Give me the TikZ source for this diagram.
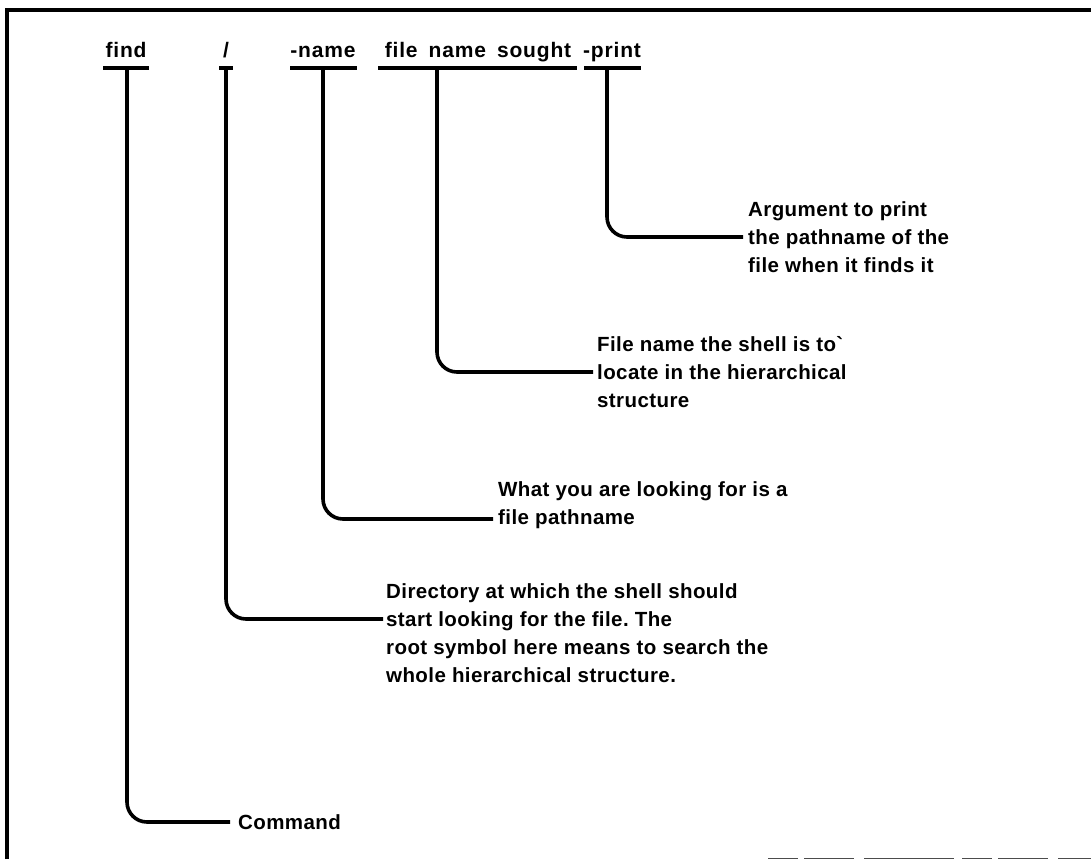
\documentclass[tikz,border=0pt]{standalone}
\usepackage{fontspec}
\setmainfont{Liberation Sans}
\newfontfamily\headfamily[LetterSpace=4]{Liberation Sans}
\newfontfamily\labelfamily[LetterSpace=2]{Liberation Sans}
\newcommand\headfont{\headfamily\bfseries\fontsize{21}{24}\selectfont\spaceskip=11pt\relax}
\newcommand\labelfont{\labelfamily\bfseries\fontsize{20.5}{28}\selectfont\frenchspacing}
\begin{document}
\begin{tikzpicture}[x=1pt,y=-1pt,
  word/.style={font=\headfont, inner sep=0pt, anchor=base},
  label/.style={font=\labelfont, inner sep=0pt, align=left, anchor=west},
  bar/.style={line width=4pt},
  conn/.style={line width=3.6pt, rounded corners=20pt},
  frame/.style={line width=4pt}]
  \useasboundingbox (0,0) rectangle (1091,859);

  % frame
  \draw[frame] (7,859) -- (7,10) -- (1091,10);
  \draw[line width=1pt, black!70, dash pattern=on 30pt off 6pt on 50pt off 10pt on 90pt off 8pt]
    (768,858) -- (1091,858);

  % command line
  \node[word] (find)   at (126,58) {find};
  \node[word] (root)   at (226,58) {/};
  \node[word] (opt)    at (323,58) {-name};
  \node[word] (sought) at (478,58) {file name sought};
  \node[word] (print)  at (612,58) {-print};

  % bars under each word
  \draw[bar] (103,68) -- (149,68);
  \draw[bar] (219,68) -- (233,68);
  \draw[bar] (290,68) -- (357,68);
  \draw[bar] (378,68) -- (577,68);
  \draw[bar] (584,68) -- (641,68);

  \coordinate (findstem)   at (127,68);
  \coordinate (rootstem)   at (226,68);
  \coordinate (optstem)    at (323,68);
  \coordinate (soughtstem) at (437,68);
  \coordinate (printstem)  at (607,68);

  % explanations
  \node[label] (cmd) at (238,822) {Command};
  \node[label] (dir) at (386,633) {Directory at which the shell should\\start looking for the file. The\\root symbol here means to search the\\whole hierarchical structure.};
  \node[label] (what) at (498,505) {What you are looking for is a\\file pathname};
  \node[label] (fname) at (597,372) {File name the shell is to\textasciigrave\\locate in the hierarchical\\structure};
  \node[label] (arg) at (748,237) {Argument to print\\the pathname of the\\file when it finds it};

  \coordinate (cmdend)   at ([xshift=-8pt]cmd.west);
  \coordinate (dirend)   at ([xshift=-3pt,yshift=14pt]dir.west);
  \coordinate (whatend)  at ([xshift=-5pt,yshift=-14pt]what.west);
  \coordinate (fnameend) at ([xshift=-4pt]fname.west);
  \coordinate (argend)   at ([xshift=-5pt]arg.west);

  % connectors
  \draw[conn] (findstem)   |- (cmdend);
  \draw[conn] (rootstem)   |- (dirend);
  \draw[conn] (optstem)    |- (whatend);
  \draw[conn] (soughtstem) |- (fnameend);
  \draw[conn] (printstem)  |- (argend);
\end{tikzpicture}
\end{document}
